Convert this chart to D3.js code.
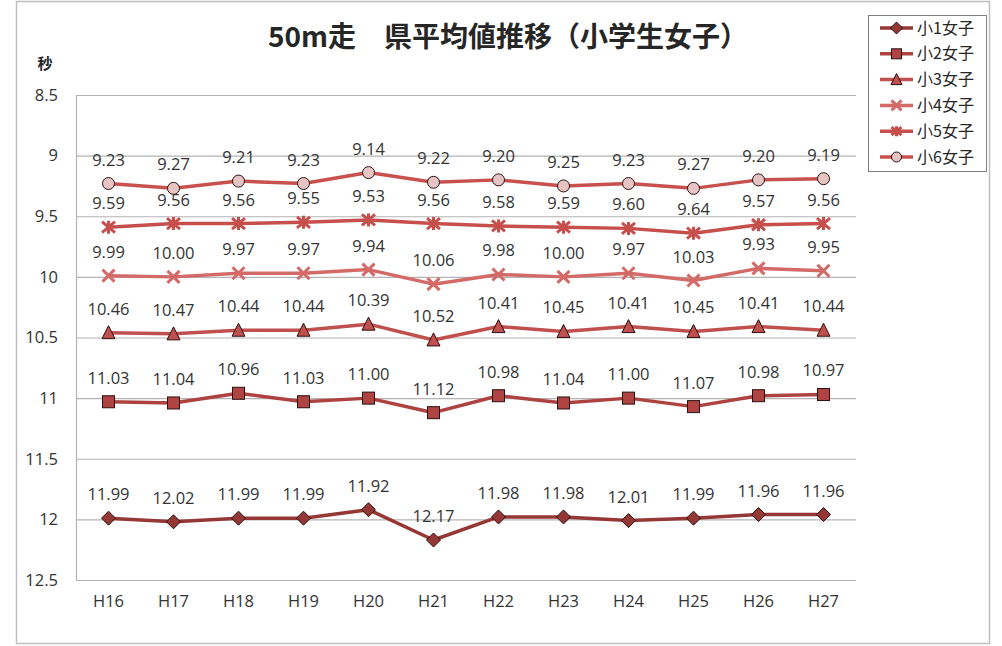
<!DOCTYPE html>
<html><head><meta charset="utf-8">
<script src="https://cdn.jsdelivr.net/npm/d3@7/dist/d3.min.js"></script>
<style>
body{margin:0;background:#fff;}
svg{display:block;}
text{font-family:"Noto Sans CJK JP","Noto Sans",sans-serif;}
.num{font-family:"Open Sans","Noto Sans",sans-serif;}
</style></head>
<body>
<svg id="c" width="1002" height="646"></svg>
<script>
const categories = ["H16","H17","H18","H19","H20","H21","H22","H23","H24","H25","H26","H27"];
const seriesNames = ["小1女子","小2女子","小3女子","小4女子","小5女子","小6女子"];
const s1 = [11.99,12.02,11.99,11.99,11.92,12.17,11.98,11.98,12.01,11.99,11.96,11.96];
const s2 = [11.03,11.04,10.96,11.03,11.00,11.12,10.98,11.04,11.00,11.07,10.98,10.97];
const s3 = [10.46,10.47,10.44,10.44,10.39,10.52,10.41,10.45,10.41,10.45,10.41,10.44];
const s4 = [9.99,10.00,9.97,9.97,9.94,10.06,9.98,10.00,9.97,10.03,9.93,9.95];
const s5 = [9.59,9.56,9.56,9.55,9.53,9.56,9.58,9.59,9.60,9.64,9.57,9.56];
const s6 = [9.23,9.27,9.21,9.23,9.14,9.22,9.20,9.25,9.23,9.27,9.20,9.19];
const yTicks = [8.5,9,9.5,10,10.5,11,11.5,12,12.5];
const title = "50m走　県平均値推移（小学生女子）";
const yUnit = "秒";

const seriesValues = [s1,s2,s3,s4,s5,s6];
const styles = [
  {line:"#953735", marker:"diamond", fill:"#953735", stroke:"#2b1010"},
  {line:"#ae4240", marker:"square", fill:"#b04442", stroke:"#2b1010"},
  {line:"#c0504d", marker:"triangle", fill:"#c0504d", stroke:"#2b1010"},
  {line:"#d46a67", marker:"x", fill:"none", stroke:"#d46a67"},
  {line:"#c64f4c", marker:"star", fill:"none", stroke:"#c64f4c"},
  {line:"#c8504d", marker:"circle", fill:"#e6c4c3", stroke:"#2b1010"}
];

const svg = d3.select("#c");
const plot = {left:76, right:856, top:95, bottom:580};

svg.append("rect").attr("x",16.5).attr("y",1.5).attr("width",973).attr("height",642)
  .attr("fill","#fff").attr("stroke","#bfbfbf").attr("stroke-width",1.5);

const x = d3.scaleBand().domain(categories).range([plot.left, plot.right]).paddingInner(0).paddingOuter(0);
const y = d3.scaleLinear().domain([8.5,12.5]).range([plot.top, plot.bottom]);
const cx = d => x(d) + x.bandwidth()/2;

const grid = svg.append("g").attr("transform",`translate(${plot.left},0)`)
  .call(d3.axisLeft(y).tickValues(yTicks).tickSize(-(plot.right-plot.left)).tickFormat(""));
grid.select(".domain").remove();
grid.selectAll(".tick line").attr("stroke","#b3b3b3").attr("stroke-width",1.2);

svg.append("line").attr("x1",plot.left+0.5).attr("x2",plot.left+0.5).attr("y1",plot.top).attr("y2",plot.bottom)
  .attr("stroke","#b3b3b3").attr("stroke-width",1.2);

const ya = svg.append("g").attr("transform",`translate(${plot.left-18},0)`)
  .call(d3.axisLeft(y).tickValues(yTicks).tickSize(0).tickPadding(0).tickFormat(d=>String(d)));
ya.select(".domain").remove();
ya.selectAll("text").attr("class","num").attr("font-size",16.5).attr("fill","#333").attr("font-family",null);

const xa = svg.append("g").attr("transform",`translate(0,${plot.bottom+15})`)
  .call(d3.axisBottom(x).tickSize(0).tickPadding(0));
xa.select(".domain").remove();
xa.selectAll("text").attr("class","num").attr("font-size",16.5).attr("fill","#333").attr("font-family",null);

svg.append("text").attr("x",508).attr("y",47).attr("text-anchor","middle")
  .attr("font-size",28).attr("font-weight","bold").attr("fill","#262626").text(title);
svg.append("text").attr("x",45).attr("y",69).attr("text-anchor","middle")
  .attr("font-size",15).attr("font-weight","bold").attr("fill","#262626").text(yUnit);

function drawMarker(g, type, st, size){
  const h = size/2;
  if(type==="diamond"){
    g.append("path").attr("d",`M0,${-h-1}L${h+1},0L0,${h+1}L${-h-1},0Z`).attr("fill",st.fill).attr("stroke",st.stroke).attr("stroke-width",1);
  } else if(type==="square"){
    g.append("rect").attr("x",-h).attr("y",-h).attr("width",size).attr("height",size).attr("fill",st.fill).attr("stroke",st.stroke).attr("stroke-width",1);
  } else if(type==="triangle"){
    g.append("path").attr("d",`M0,${-h-1}L${h+0.5},${h}L${-h-0.5},${h}Z`).attr("fill",st.fill).attr("stroke",st.stroke).attr("stroke-width",1);
  } else if(type==="circle"){
    g.append("circle").attr("r",h).attr("fill",st.fill).attr("stroke",st.stroke).attr("stroke-width",1);
  } else if(type==="x"){
    g.append("path").attr("d",`M${-h},${-h}L${h},${h}M${-h},${h}L${h},${-h}`).attr("stroke",st.stroke).attr("stroke-width",3).attr("fill","none");
  } else if(type==="star"){
    g.append("path").attr("d",`M${-h},${-h+1}L${h},${h-1}M${-h},${h-1}L${h},${-h+1}M0,${-h}L0,${h}`).attr("stroke",st.stroke).attr("stroke-width",3).attr("fill","none");
  }
}

const line = d3.line().x((d,i)=>cx(categories[i])).y(d=>y(d));
const sizes = [12,12,12,12,13,12];

seriesValues.forEach((vals,si)=>{
  const st = styles[si];
  svg.append("path").datum(vals).attr("d",line).attr("fill","none")
    .attr("stroke",st.line).attr("stroke-width",3.5).attr("stroke-linejoin","round");
  vals.forEach((v,i)=>{
    const g = svg.append("g").attr("transform",`translate(${cx(categories[i])},${y(v)})`);
    drawMarker(g, st.marker, st, sizes[si]);
  });
});
seriesValues.forEach((vals,si)=>{
  vals.forEach((v,i)=>{
    svg.append("text").attr("class","num").attr("x",cx(categories[i])).attr("y",y(v)-18).attr("text-anchor","middle")
      .attr("font-size",16.5).attr("fill","#333").text(v.toFixed(2));
  });
});

const lg = svg.append("g");
lg.append("rect").attr("x",868.5).attr("y",15.5).attr("width",118).attr("height",156)
  .attr("fill","#fff").attr("stroke","#7f7f7f").attr("stroke-width",1);
seriesNames.forEach((n,i)=>{
  const yy = 28 + i*25.8;
  const st = styles[i];
  lg.append("line").attr("x1",880).attr("x2",913).attr("y1",yy).attr("y2",yy).attr("stroke",st.line).attr("stroke-width",3.5);
  const g = lg.append("g").attr("transform",`translate(896.5,${yy})`);
  drawMarker(g, st.marker, st, 10);
  lg.append("text").attr("x",917).attr("y",yy+5.5).attr("font-size",16).attr("fill","#262626").text(n);
});
</script>
</body></html>
